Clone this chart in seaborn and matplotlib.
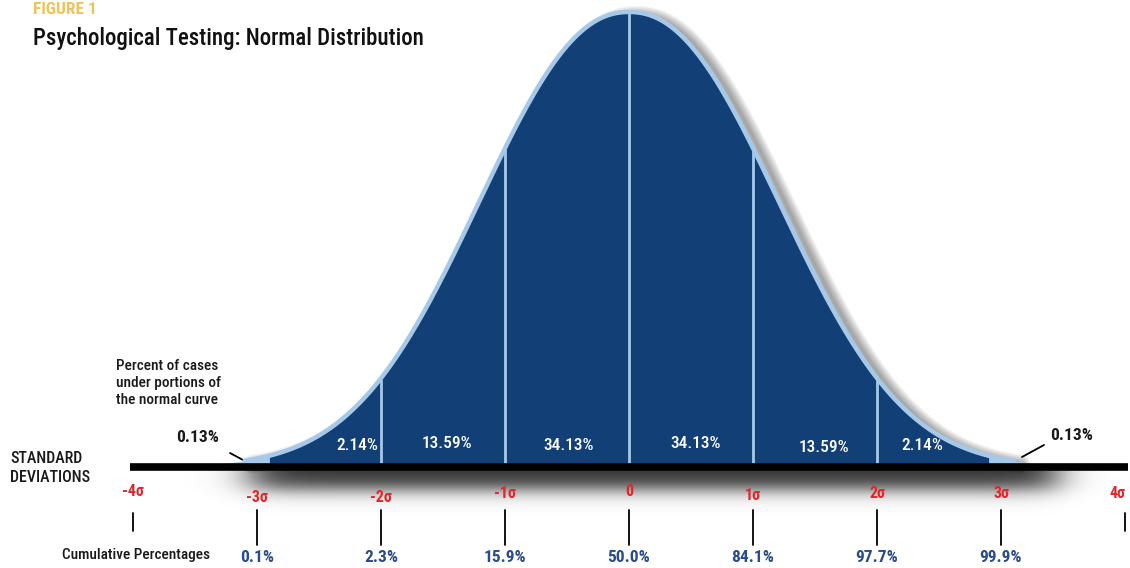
import numpy as np
import matplotlib
matplotlib.use("Agg")
import matplotlib.pyplot as plt
from matplotlib import font_manager
import seaborn as sns

sns.set_theme(style="white")

names = {f.name for f in font_manager.fontManager.ttflist}
NARROW = next((n for n in ["Roboto Condensed", "Archivo Narrow", "PT Sans Narrow",
                           "Liberation Sans Narrow", "Open Sans Condensed"]
               if n in names), "DejaVu Sans")
plt.rcParams["font.family"] = [NARROW, "DejaVu Sans"]

# --- data -------------------------------------------------------------
sigma_pos = [-4, -3, -2, -1, 0, 1, 2, 3, 4]
sigma_labels = ["-4σ", "-3σ", "-2σ", "-1σ", "0", "1σ", "2σ", "3σ", "4σ"]
segment_edges = [-3, -2, -1, 0, 1, 2, 3]
segment_pct = ["2.14%", "13.59%", "34.13%", "34.13%", "13.59%", "2.14%"]
tail_pct = "0.13%"
cum_pos = [-3, -2, -1, 0, 1, 2, 3]
cum_pct = ["0.1%", "2.3%", "15.9%", "50.0%", "84.1%", "97.7%", "99.9%"]

FILL = "#123f76"
EDGE = "#a6c9ea"
RED = "#e0262b"
BLUE = "#284c8c"
GOLD = "#eec35c"
INK = "#1a1a1a"

# pixel layout helpers (figure is 1130 x 568 px)
X0_PIX, PX_SIG = 629, 124
BASE_PIX, PX_UNIT = 467, 455


def px(xp):
    return (xp - X0_PIX) / PX_SIG


def py(yp):
    return (BASE_PIX - yp) / PX_UNIT


def curve(x):
    # stylised bell shape as drawn in the figure (flatter top than a true normal)
    return np.exp(-(np.abs(x) / 1.6) ** 2.2)


fig = plt.figure(figsize=(11.3, 5.68), dpi=100)
ax = fig.add_axes([0, 0, 1, 1])
ax.set_xlim(px(0), px(1130))
ax.set_ylim(py(568), py(0))
ax.axis("off")

# shadow under baseline
gx = np.linspace(px(170), px(1110), 500)
gy = np.linspace(py(520), py(467), 80)
GX, GY = np.meshgrid(gx, gy)
gxp = GX * PX_SIG + X0_PIX
gyp = BASE_PIX - GY * PX_UNIT
a = (1 / (1 + np.exp(-(gxp - 250) / 13))) * (1 / (1 + np.exp((gxp - 1058) / 12)))
a *= 1 / (1 + np.exp((gyp - 489) / 5.5))
img = np.zeros(GX.shape + (4,))
img[..., 3] = 0.8 * a
ax.imshow(img, extent=(gx[0], gx[-1], gy[0], gy[-1]), origin="lower",
          aspect="auto", interpolation="bilinear", zorder=1)

# curve
xs = np.linspace(-3.1, 3.1, 600)
ys = curve(xs)

# soft shadow on the right of the curve
for lw in np.linspace(14, 2, 10):
    ax.plot(xs + 0.06, ys - 0.008, color="black", lw=lw, alpha=0.04,
            solid_capstyle="round", zorder=2)

ax.fill_between(xs, 0, ys, color=FILL, lw=0, zorder=3)
sns.lineplot(x=xs, y=ys, ax=ax, color=EDGE, lw=3.2, zorder=4, sort=False)

# pale tails to +-4 sigma
for lo, hi in [(-3.9, -2.9), (2.9, 3.95)]:
    tx = np.linspace(lo, hi, 100)
    ax.fill_between(tx, 0, np.maximum(curve(tx), 0.008), color=EDGE, lw=0, zorder=3)

# segment dividers
for e in segment_edges[1:-1]:
    ax.plot([e, e], [0, curve(e) - 0.004], color=EDGE, lw=2, zorder=5)

# baseline
ax.plot([px(130), px(1128)], [0, 0], color="black", lw=5.5, zorder=6,
        solid_capstyle="butt")

# segment labels
seg_y = [446, 444, 446, 444, 448, 446]
seg_x = [357, 447, 569, 696, 824, 922]
for x, y, s in zip(seg_x, seg_y, segment_pct):
    ax.text(px(x), py(y), s, color="white", fontsize=12.5, ha="center", va="center",
            fontweight="medium", zorder=7)

# tails
ax.text(px(198), py(437), tail_pct, fontsize=12.5, fontweight="bold", ha="center",
        va="center", color=INK)
ax.plot([px(230), px(243)], [py(453), py(460)], color="black", lw=1.3)
ax.text(px(1072), py(436), tail_pct, fontsize=12.5, fontweight="bold", ha="center",
        va="center", color=INK)
ax.plot([px(1022), px(1044)], [py(457), py(445)], color="black", lw=1.3)

# sigma labels and ticks
sig_y = [491, 497, 497, 493, 492, 496, 494, 493, 493]
for x, s, yp in zip(sigma_pos, sigma_labels, sig_y):
    ax.text(min(x, px(1117)), py(yp), s, color=RED, fontsize=11.5,
            fontweight="semibold", ha="center", va="center")
    if abs(x) == 4:
        ax.plot([x, x], [py(513), py(531)], color="black", lw=1.3)
    else:
        ax.plot([x, x], [py(510), py(545)], color="black", lw=1.3)

# cumulative percentages
for x, s in zip(cum_pos, cum_pct):
    ax.text(x, py(557), s, color=BLUE, fontsize=12.5, fontweight="bold",
            ha="center", va="center")

# side annotations
ax.text(px(62), py(555), "Cumulative Percentages", fontsize=11, color=INK,
        fontweight="medium", ha="left", va="center")
ax.text(px(10), py(468), "STANDARD\nDEVIATIONS", fontsize=11.5, color=INK,
        fontweight="medium", ha="left", va="center", linespacing=1.35)
ax.text(px(116), py(383), "Percent of cases\nunder portions of\nthe normal curve",
        fontsize=11, color=INK, fontweight="medium", ha="left", va="center",
        linespacing=1.3)

# titles
fig.text(33 / 1130, 1 - 9 / 568, "FIGURE 1", color=GOLD, fontsize=12.5,
         fontweight="bold", ha="left", va="center")
fig.text(33 / 1130, 1 - 39 / 568, "Psychological Testing: Normal Distribution",
         color="#111111", fontsize=16.5, fontweight="medium", ha="left",
         va="center")

fig.savefig("out.png", dpi=100, facecolor="white")
